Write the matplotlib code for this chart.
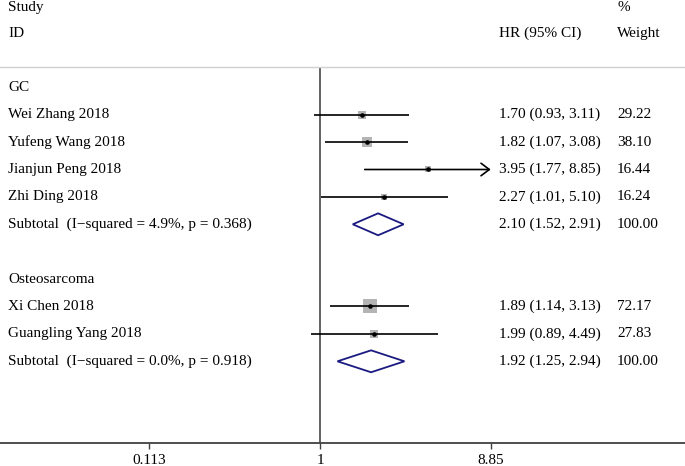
import numpy as np
import matplotlib
matplotlib.use("Agg")
import matplotlib.pyplot as plt
import matplotlib.transforms as mtransforms
from matplotlib.patches import Polygon

# ---------------- data ----------------
groups = ["GC", "Osteosarcoma"]
study_group = ["GC", "GC", "GC", "GC", "Osteosarcoma", "Osteosarcoma"]
studies = ["Wei Zhang 2018", "Yufeng Wang 2018", "Jianjun Peng 2018",
           "Zhi Ding 2018", "Xi Chen 2018", "Guangling Yang 2018"]
hr = [1.70, 1.82, 3.95, 2.27, 1.89, 1.99]
ci_lo = [0.93, 1.07, 1.77, 1.01, 1.14, 0.89]
ci_hi = [3.11, 3.08, 8.85, 5.10, 3.13, 4.49]
weights = [29.22, 38.10, 16.44, 16.24, 72.17, 27.83]

sub_hr = [2.10, 1.92]
sub_lo = [1.52, 1.25]
sub_hi = [2.91, 2.94]
sub_weight = [100.00, 100.00]
sub_labels = ["Subtotal  (I\u2212squared = 4.9%, p = 0.368)",
              "Subtotal  (I\u2212squared = 0.0%, p = 0.918)"]

xtick_vals = [0.113, 1, 8.85]
xtick_labels = ["0.113", "1", "8.85"]

# ---------------- figure ----------------
plt.rcParams['font.family'] = ['Liberation Serif', 'DejaVu Serif']
FS = 11.0
W, H = 685, 466
fig = plt.figure(figsize=(W / 100, H / 100), dpi=100)

axis_y = 443.3
top_y = 66.7
ax = fig.add_axes([0, (H - axis_y) / H, 1, (axis_y - top_y) / H])

row0 = 87.3
row_h = 27.4
ymin_row = (axis_y - row0) / row_h
ymax_row = (top_y - row0) / row_h
ax.set_ylim(ymin_row, ymax_row)

px_per_ln = 78.3
x_one = 320.0
ax.set_xscale('log')
ax.set_xlim(np.exp(-x_one / px_per_ln), np.exp((W - x_one) / px_per_ln))

for s in ['left', 'right']:
    ax.spines[s].set_visible(False)
ax.spines['top'].set_color('#cfcfcf')
ax.spines['top'].set_linewidth(1.0)
ax.spines['bottom'].set_color('#404040')
ax.spines['bottom'].set_linewidth(1.3)
ax.set_yticks([])
ax.set_xticks(xtick_vals)
ax.set_xticklabels(xtick_labels, fontsize=FS)
ax.xaxis.set_minor_locator(matplotlib.ticker.NullLocator())
ax.tick_params(axis='x', direction='out', length=4.5, width=1.0,
               color='#404040', pad=3.0)

# null line
ax.axvline(1, color='#555555', lw=1.3, zorder=1)

tr_text = mtransforms.blended_transform_factory(fig.transFigure, ax.transData)
x_lab = 8.3 / W
x_hr = 499.3 / W
x_w = 617.0 / W

def txt(x, y, s):
    ax.text(x, y, s, transform=tr_text, fontsize=FS, va='center', ha='left',
            clip_on=False)

# headers
txt(x_lab, -2.92, "Study")
txt(x_lab, -1.97, "ID")
txt(x_hr, -1.97, "HR (95% CI)")
txt(x_w, -2.92, "%")
txt(x_w, -1.97, "Weight")

navy = '#1a1a80'
row = 0
for g_i, g in enumerate(groups):
    txt(x_lab, row, g)
    row += 1
    for i, sg in enumerate(study_group):
        if sg != g:
            continue
        y = row
        txt(x_lab, y, studies[i])
        txt(x_hr, y, f"{hr[i]:.2f} ({ci_lo[i]:.2f}, {ci_hi[i]:.2f})")
        txt(x_w, y, f"{weights[i]:.2f}")
        side_pt = 1.15 * np.sqrt(weights[i])
        ax.plot([hr[i]], [y], marker='s', markersize=side_pt,
                color='#b4b4b4', markeredgewidth=0, zorder=2)
        if ci_hi[i] >= max(xtick_vals):
            # line ending in an open arrow head
            ax.annotate("", xy=(ci_hi[i], y), xytext=(ci_lo[i], y),
                        arrowprops=dict(arrowstyle='->,head_length=0.6,head_width=0.45',
                                        lw=1.2, color='black',
                                        shrinkA=0, shrinkB=0), zorder=3)
        else:
            ax.plot([ci_lo[i], ci_hi[i]], [y, y], color='black', lw=1.2,
                    zorder=3, solid_capstyle='butt')
        ax.plot([hr[i]], [y], marker='o', markersize=3.3, color='black',
                markeredgewidth=0, zorder=4)
        row += 1
    # subtotal
    y = row
    txt(x_lab, y, sub_labels[g_i])
    txt(x_hr, y, f"{sub_hr[g_i]:.2f} ({sub_lo[g_i]:.2f}, {sub_hi[g_i]:.2f})")
    txt(x_w, y, f"{sub_weight[g_i]:.2f}")
    hh = 0.4
    diamond = Polygon([(sub_lo[g_i], y), (sub_hr[g_i], y - hh),
                       (sub_hi[g_i], y), (sub_hr[g_i], y + hh)],
                      closed=True, facecolor='white', edgecolor=navy,
                      lw=1.3, zorder=3)
    ax.add_patch(diamond)
    row += 2

fig.savefig("out.png", dpi=100)
